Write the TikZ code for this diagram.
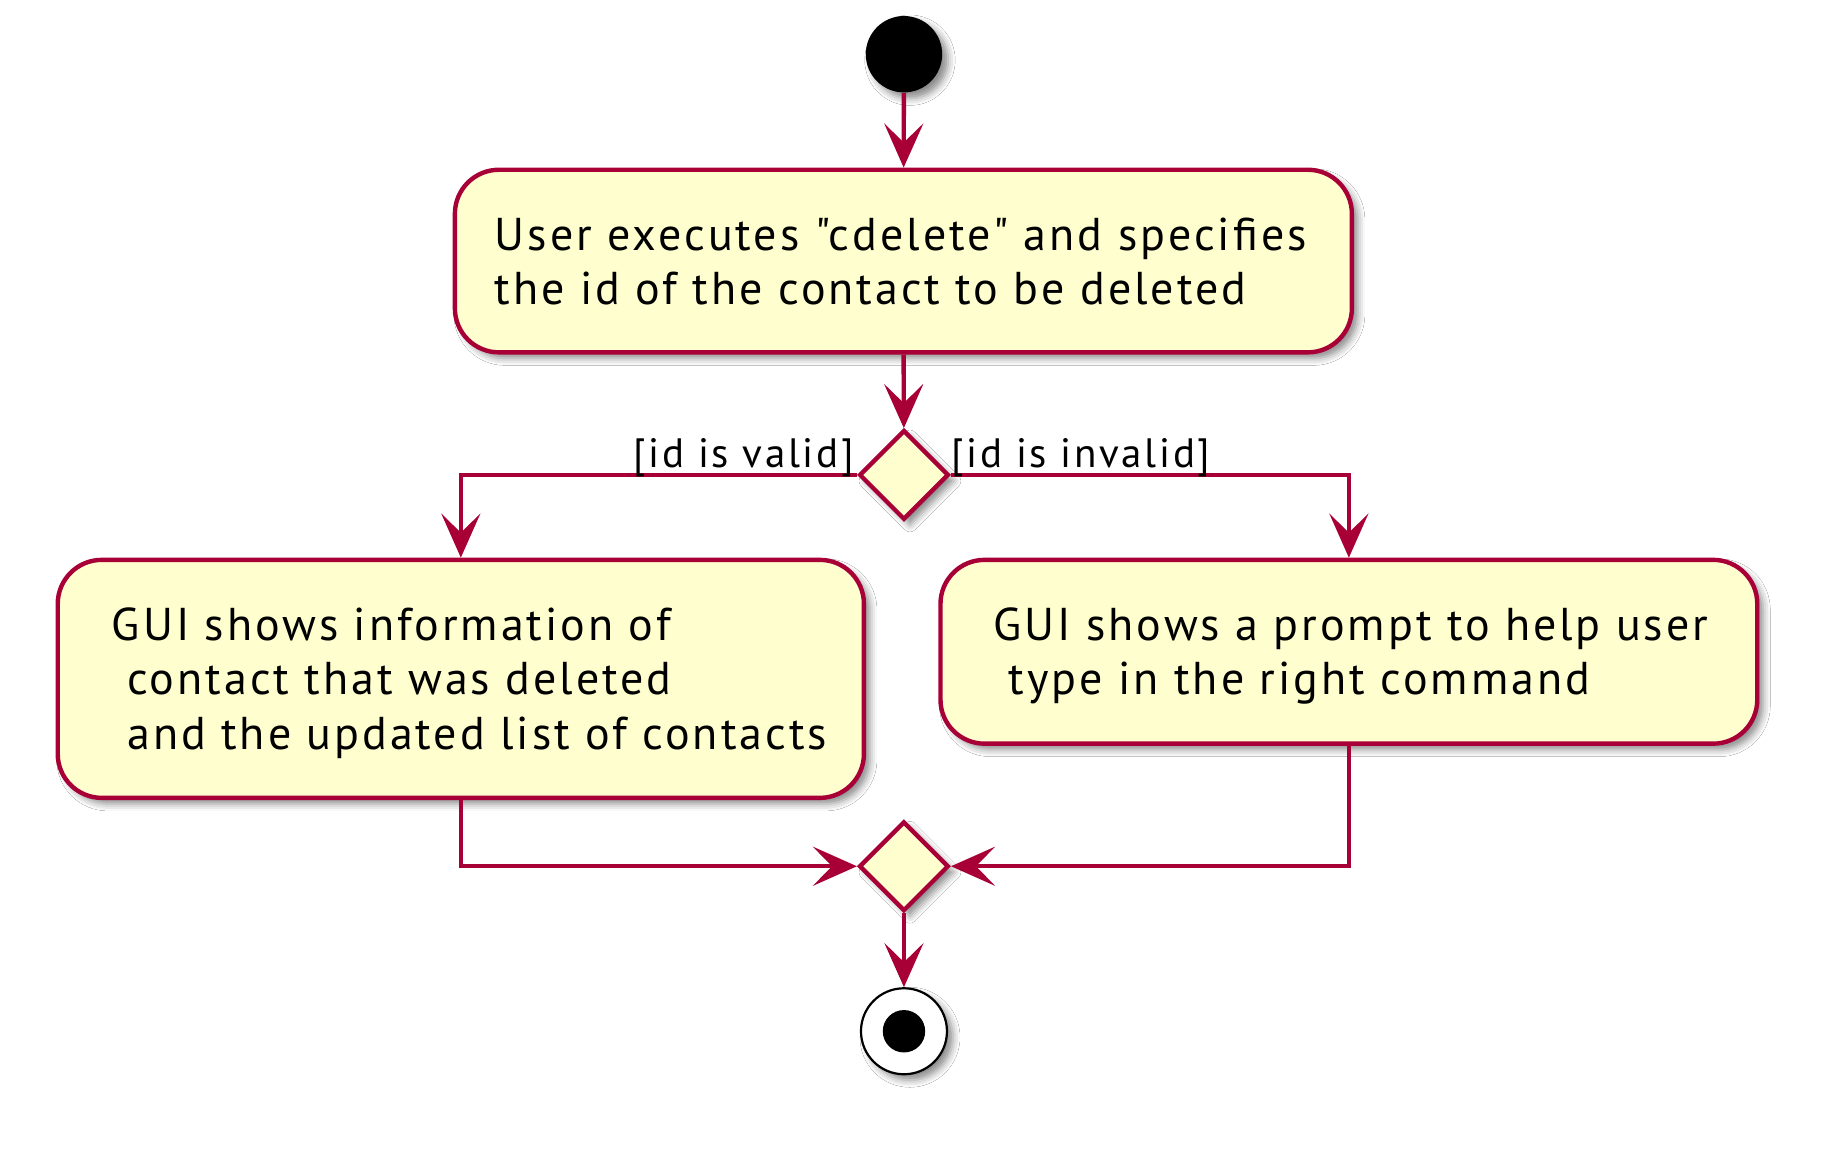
\documentclass[tikz,border=0pt]{standalone}
\usepackage{fontspec}
\setmainfont{PT Sans}[LetterSpace=6.5,Ligatures=TeXOff]
\usetikzlibrary{shapes.geometric,arrows.meta,shadows.blur}
\definecolor{umlred}{HTML}{A80036}
\definecolor{umlfill}{HTML}{FEFECE}
\newcommand{\actfont}{\fontsize{23pt}{27.1pt}\selectfont}
\newcommand{\labfont}{\fontsize{20.5pt}{22pt}\selectfont}
\begin{document}
\begin{tikzpicture}[x=0.5893pt,y=-0.5893pt,
  shade/.style={blur shadow={shadow xshift=3pt,shadow yshift=-3pt,shadow blur radius=3.5pt,shadow opacity=45}},
  flow/.style={draw=umlred,line width=2.2pt,-{Stealth[length=22pt,width=19.5pt,inset=9.5pt]}},
  act/.style={draw=umlred,fill=umlfill,line width=2.2pt,rounded corners=22pt,shade,
    align=left,font=\actfont,text height=16.1pt,inner ysep=0pt},
  decide/.style={diamond,aspect=1,draw=umlred,fill=umlfill,line width=2.2pt,shade,
    minimum width=44.8pt,minimum height=44.8pt,inner sep=0pt},
  startnode/.style={circle,fill=black,minimum size=38.2pt,inner sep=0pt,shade},
  stopnode/.style={circle,draw=black,fill=white,line width=1.1pt,minimum size=43pt,inner sep=0pt,shade},
  lab/.style={font=\labfont,inner sep=0pt,text=black}
]
\useasboundingbox[fill=white] (0,0) rectangle (1568,991);

\node[startnode] (start) at (767,46) {};

\node[act,minimum width=448.5pt,minimum height=91.3pt,text width=408.4pt,inner xsep=20.04pt,text depth=27.1pt]
  (b1) at (766.5,221.5) {\mbox{User executes "cdelete" and specifies}\\\mbox{the id of the contact to be deleted}};

\node[decide] (d1) at (767,403) {};

\node[act,minimum width=403.1pt,minimum height=119pt,text width=348.9pt,inner xsep=27.1pt,text depth=54.2pt]
  (b2) at (391,576) {\mbox{GUI shows information of}\\\mbox{\ contact that was deleted}\\\mbox{\ and the updated list of contacts}};

\node[act,minimum width=408.4pt,minimum height=91.9pt,text width=355.3pt,inner xsep=26.5pt,text depth=27.1pt]
  (b3) at (1144.5,553) {\mbox{GUI shows a prompt to help user}\\\mbox{\ type in the right command}};

\node[decide] (d2) at (767,735) {};

\node[stopnode] (stop) at (767,875) {};
\fill[black] (stop.center) circle (10.6pt);

\draw[flow] (start) -- (b1);
\draw[flow] (b1) -- (d1);
\draw[flow] (d1.west) -| node[lab,pos=0,anchor=base east,xshift=-0.5pt,yshift=3.5pt] (lv) {[id is valid]} (b2.north);
\draw[flow] (d1.east) -| node[lab,pos=0,anchor=base west,xshift=-0.8pt,yshift=3.5pt] (li) {[id is invalid]} (b3.north);
\draw[flow] (b2.south) |- (d2.west);
\draw[flow] (b3.south) |- (d2.east);
\draw[flow] (d2) -- (stop);
\end{tikzpicture}
\end{document}
